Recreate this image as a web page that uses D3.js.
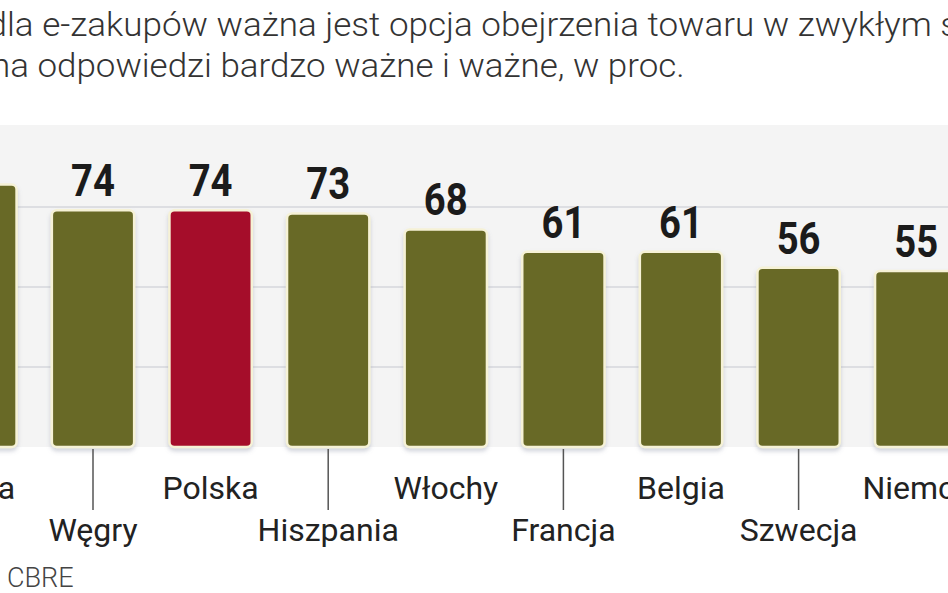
<!DOCTYPE html>
<html><head><meta charset="utf-8">
<script src="https://cdn.jsdelivr.net/npm/d3@7"></script>
<style>html,body{margin:0;padding:0;background:#fff;overflow:hidden}</style>
</head><body>
<svg id="c" width="948" height="593"></svg>
<script>
const categories = ["Rosja","Węgry","Polska","Hiszpania","Włochy","Francja","Belgia","Szwecja","Niemcy"];
const values = [82,74,74,73,68,61,61,56,55];
const highlight = ["Polska"];
const gridTicks = [25,50,75];
const titleLines = ["dla e-zakupów ważna jest opcja obejrzenia towaru w zwykłym sklepie",
                    "na odpowiedzi bardzo ważne i ważne, w proc."];
const source = "CBRE";

const svg = d3.select("#c");
const W = 948, H = 593;
const data = categories.map((c,i)=>({c, v: values[i], i}));

const step = 117.6;
const x0 = -83.4;
const x = d3.scaleBand().domain(categories).range([x0, x0 + step*categories.length])
  .paddingInner(0.3).paddingOuter(0.15);
const y = d3.scaleLinear().domain([0,100]).range([447,127]);

const defs = svg.append("defs");
const f = defs.append("filter").attr("id","sh").attr("x","-20%").attr("y","-20%").attr("width","140%").attr("height","140%");
f.append("feDropShadow").attr("dx",0).attr("dy",3).attr("stdDeviation",2)
 .attr("flood-color","#7c8398").attr("flood-opacity",0.35);

// plot background
svg.append("rect").attr("x",0).attr("y",y(100)-2).attr("width",W).attr("height",y(0)-y(100)+2)
  .attr("fill","#f4f4f4");

// gridlines
svg.append("g").selectAll("line").data(gridTicks).join("line")
  .attr("x1",0).attr("x2",W).attr("y1",d=>y(d)).attr("y2",d=>y(d))
  .attr("stroke","#d6d7dc").attr("stroke-width",1.5);

// bars
svg.append("g").selectAll("rect").data(data).join("rect")
  .attr("x",d=>x(d.c)).attr("y",d=>y(d.v))
  .attr("width",x.bandwidth()).attr("height",d=>y(0)-y(d.v))
  .attr("rx",5).attr("ry",5)
  .attr("fill",d=>highlight.includes(d.c)?"#a50f2a":"#686928")
  .attr("stroke","#f6f2d6").attr("stroke-width",2.5)
  .attr("filter","url(#sh)");

// value labels
svg.append("g").selectAll("text").data(data).join("text")
  .attr("transform",d=>`translate(${x(d.c)+x.bandwidth()/2},${y(d.v)-14}) scale(0.85,1)`)
  .attr("text-anchor","middle")
  .attr("font-family","Roboto, sans-serif").attr("font-weight",700).attr("font-size",45)
  .attr("fill","#1b1b1b").text(d=>d.v);

// tick lines for lower-row labels
svg.append("g").selectAll("line").data(data.filter(d=>d.i%2===1)).join("line")
  .attr("x1",d=>x(d.c)+x.bandwidth()/2).attr("x2",d=>x(d.c)+x.bandwidth()/2)
  .attr("y1",449).attr("y2",510).attr("stroke","#555").attr("stroke-width",1.5);

// category labels
svg.append("g").selectAll("text").data(data).join("text")
  .attr("x",d=>x(d.c)+x.bandwidth()/2).attr("y",d=>d.i%2===0?499:541)
  .attr("text-anchor","middle")
  .attr("font-family","Roboto, sans-serif").attr("font-size",32)
  .attr("fill","#222").text(d=>d.c);

// title (horizontally stretched to match the original's wider typeface)
function measure(str){
  const t = svg.append("text").attr("font-family","Roboto, sans-serif").attr("font-weight",300)
    .attr("font-size",33).text(str);
  const w = t.node().getComputedTextLength(); t.remove(); return w;
}
const wd = measure("d");
const wPre = measure(titleLines[0].slice(1, titleLines[0].indexOf("sklepie")));
const sx1 = 925 / wPre;
svg.append("text").attr("font-family","Roboto, sans-serif").attr("font-weight",300)
  .attr("font-size",33).attr("fill","#333")
  .attr("transform",`translate(${7 - wd*sx1},36) scale(${sx1},1)`).text(titleLines[0]);
const sx2 = 694 / measure(titleLines[1]);
svg.append("text").attr("font-family","Roboto, sans-serif").attr("font-weight",300)
  .attr("font-size",33).attr("fill","#333")
  .attr("transform",`translate(-9,77) scale(${sx2},1)`).text(titleLines[1]);

// source
svg.append("text").attr("x",7).attr("y",587).attr("font-family","Roboto, sans-serif")
  .attr("font-weight",300).attr("font-size",27).attr("fill","#444").text(source);
</script>
</body></html>
